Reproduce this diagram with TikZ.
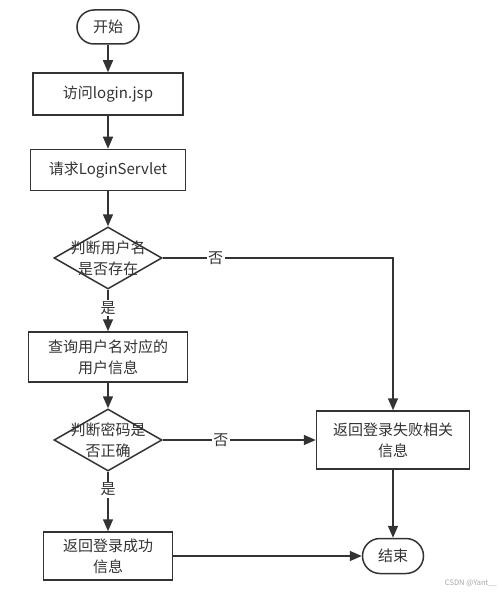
\documentclass[tikz,border=0pt]{standalone}
\usepackage{fontspec}
\setmainfont{Noto Sans CJK SC}
\usetikzlibrary{arrows.meta,shapes.geometric}
\definecolor{ln}{HTML}{333333}
\definecolor{tx}{HTML}{333333}
\tikzset{
  base/.style={draw=ln, line width=1.5pt, text=tx, font=\fontsize{15pt}{21pt}\selectfont, align=center, inner sep=0pt},
  term/.style={base, rounded corners=17pt},
  proc/.style={base},
  dia/.style={base, diamond, minimum width=108pt, minimum height=62pt},
  dtext/.style={text=tx, font=\fontsize{15pt}{21pt}\selectfont, align=center, inner sep=0pt},
  arr/.style={draw=ln, line width=1.5pt, -{Triangle[length=12pt,width=10pt]}},
  lbl/.style={fill=white, text=tx, font=\fontsize{15pt}{16pt}\selectfont, inner sep=1.5pt},
}
\begin{document}
\begin{tikzpicture}[x=1pt,y=-1pt]
\useasboundingbox[fill=white] (0,0) rectangle (501,596);
\node[term, minimum width=62pt, minimum height=34pt] (start) at (108,27) {开始};
\node[proc, minimum width=150pt, minimum height=42pt] (b1) at (108,94) {访问login.jsp};
\node[proc, minimum width=155pt, minimum height=41pt] (b2) at (108,170) {请求LoginServlet};
\node[dia] (d1) at (108,258) {};
\node[dtext] (d1t) at (108,258) {判断用户名\\是否存在};
\node[proc, minimum width=159pt, minimum height=50pt] (b3) at (108,357) {查询用户名对应的\\用户信息};
\node[dia] (d2) at (108,440) {};
\node[dtext] (d2t) at (108,440) {判断密码是\\否正确};
\node[proc, minimum width=129pt, minimum height=48pt] (b4) at (108,556) {返回登录成功\\信息};
\node[proc, minimum width=153pt, minimum height=58pt] (fail) at (393,440) {返回登录失败相关\\信息};
\node[term, minimum width=61pt, minimum height=35pt, rounded corners=17.5pt] (end) at (393,556) {结束};
\node[text=gray!70, font=\fontsize{7.5pt}{9pt}\selectfont, anchor=east, inner sep=0pt] (wm) at (497,583) {CSDN @Yant\_\_};

\draw[arr] (start) -- (b1);
\draw[arr] (b1) -- (b2);
\draw[arr] (b2) -- (d1.north);
\draw[arr] (d1.south) -- node[lbl, pos=0.44] {是} (b3);
\draw[arr] (b3) -- (d2.north);
\draw[arr] (d2.south) -- node[lbl, pos=0.3] {是} (b4);
\draw[arr] (d1.east) -| node[lbl, pos=0.115] {否} (fail.north);
\draw[arr] (d2.east) -- node[lbl, pos=0.38] {否} (fail.west);
\draw[arr] (b4.east) -- (end.west);
\draw[arr] (fail) -- (end);
\end{tikzpicture}
\end{document}
